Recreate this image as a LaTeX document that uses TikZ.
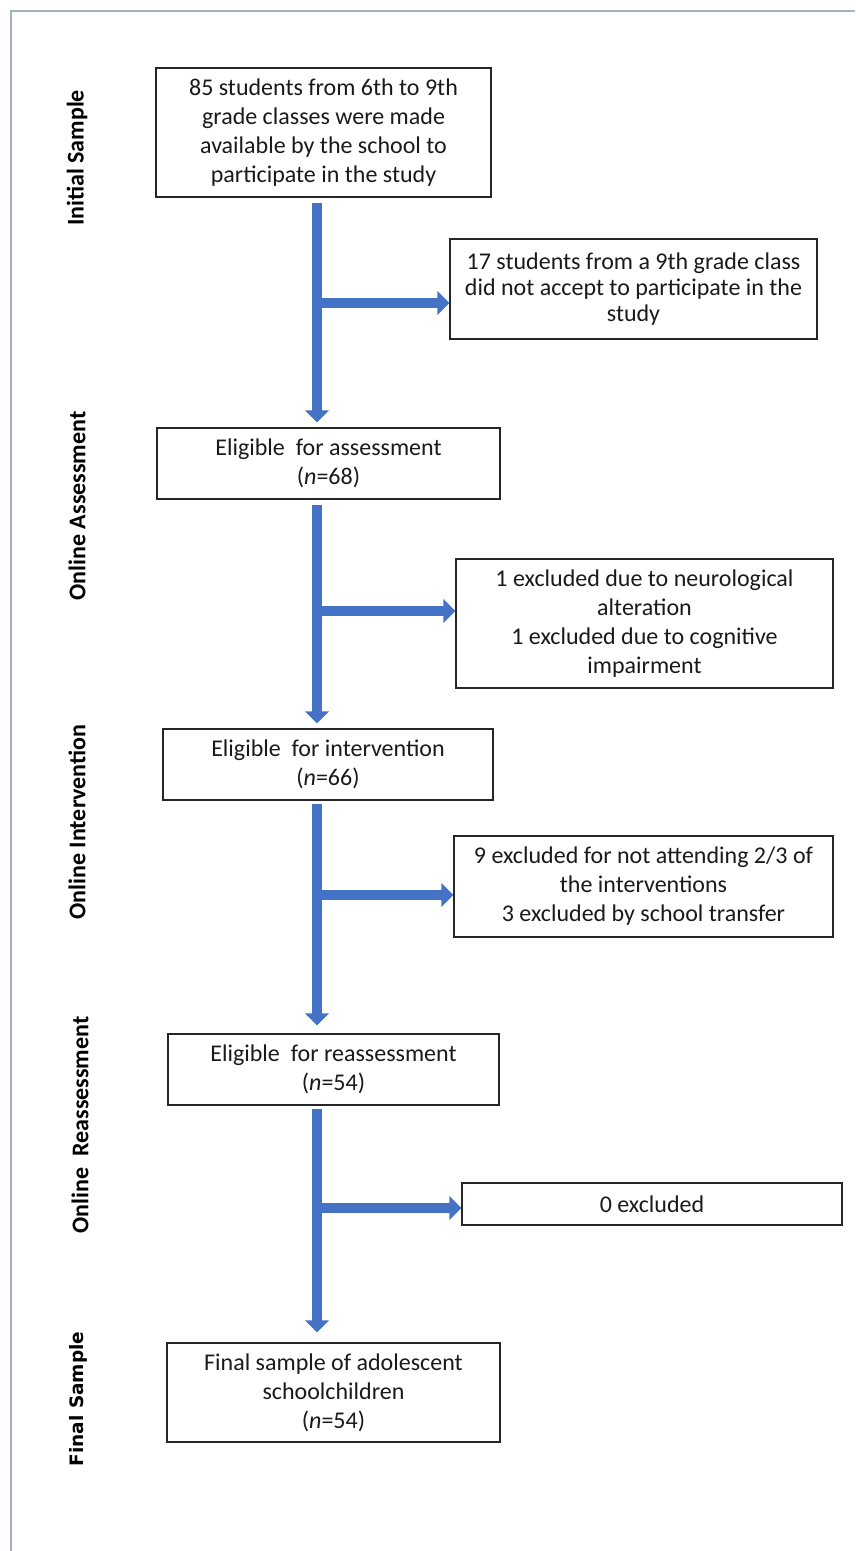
\documentclass[tikz,border=0pt]{standalone}
\usepackage{fontspec}
\setmainfont{Carlito}
\newfontfamily\dejavu{DejaVu Sans}
\usetikzlibrary{arrows.meta}
\definecolor{flowblue}{HTML}{4472C4}
\definecolor{frameline}{HTML}{A7B3C2}
\definecolor{boxline}{HTML}{262626}
\definecolor{txt}{HTML}{1A1A1A}
\begin{document}
\begin{tikzpicture}[x=1pt,y=-1pt,
  box/.style={draw=boxline, line width=1.1pt, fill=white, align=center, inner sep=0pt,
    text=txt, font=\fontsize{24}{29}\selectfont},
  flow/.style={draw=flowblue, line width=10pt, -{Triangle[length=12pt,width=23pt]}},
  phase/.style={rotate=90, font=\bfseries\fontsize{24}{29}\selectfont, text=black, inner sep=0pt}]
\useasboundingbox (0,0) rectangle (855,1551);
\fill[white] (0,0) rectangle (855,1551);
\draw[frameline, line width=1.5pt] (855,11) -- (11,11) -- (11,1551);

% phase labels
\node[phase] (p1) at (77,158) {Initial Sample};
\node[phase] (p2) at (77,506) {Online Assessment};
\node[phase] (p3) at (77,822) {Online Intervention};
\node[phase] (p4) at (80,1125) {Online~ Reassessment};
\node[phase, font=\dejavu\bfseries\fontsize{18.5}{22}\selectfont] (p5) at (78,1399) {Final Sample};

% main boxes
\node[box, minimum width=335pt, minimum height=129pt] (init) at (323.5,132.5)
  {85 students from 6th to 9th\\grade classes were made\\available by the school to\\participate in the study};
\node[box, minimum width=343pt, minimum height=71pt] (elA) at (328.5,463.5)
  {Eligible~ for assessment\\(\textit{n}=68)};
\node[box, minimum width=330pt, minimum height=71pt] (elI) at (328,764.5)
  {Eligible~ for intervention\\(\textit{n}=66)};
\node[box, minimum width=331pt, minimum height=71pt] (elR) at (333.5,1069.5)
  {Eligible~ for reassessment\\(\textit{n}=54)};
\node[box, minimum width=333pt, minimum height=99pt] (fin) at (333.5,1392.5)
  {Final sample of adolescent\\schoolchildren\\(\textit{n}=54)};

% exclusion boxes
\node[box, minimum width=367pt, minimum height=100pt, font=\fontsize{24}{26}\selectfont] (ex1) at (633.5,289)
  {17 students from a 9th grade class\\did not accept to participate in the\\study};
\node[box, minimum width=377pt, minimum height=129pt] (ex2) at (644.5,623.5)
  {1 excluded due to neurological\\alteration\\1 excluded due to cognitive\\impairment};
\node[box, minimum width=379pt, minimum height=101pt] (ex3) at (643.5,886.5)
  {9 excluded for not attending 2/3 of\\the interventions\\3 excluded by school transfer};
\node[box, minimum width=380pt, minimum height=42pt] (ex4) at (652,1204)
  {0 excluded};

% trunk
\coordinate (tr) at (317,0);
\draw[flow, shorten <=5pt, shorten >=5pt] (init.south -| tr) -- (elA.north -| tr);
\draw[flow, shorten <=5pt, shorten >=5pt] (elA.south -| tr) -- (elI.north -| tr);
\draw[flow, shorten <=3pt, shorten >=8pt] (elI.south -| tr) -- (elR.north -| tr);
\draw[flow, shorten <=3pt, shorten >=10pt] (elR.south -| tr) -- (fin.north -| tr);

% side branches
\coordinate (h1) at (322,303);
\coordinate (h2) at (322,611);
\coordinate (h3) at (322,895);
\coordinate (h4) at (322,1208);
\draw[flow] (h1) -- (h1 -| ex1.west);
\draw[flow] (h2) -- (h2 -| ex2.west);
\draw[flow] (h3) -- (h3 -| ex3.west);
\draw[flow] (h4) -- (h4 -| ex4.west);
\end{tikzpicture}
\end{document}
